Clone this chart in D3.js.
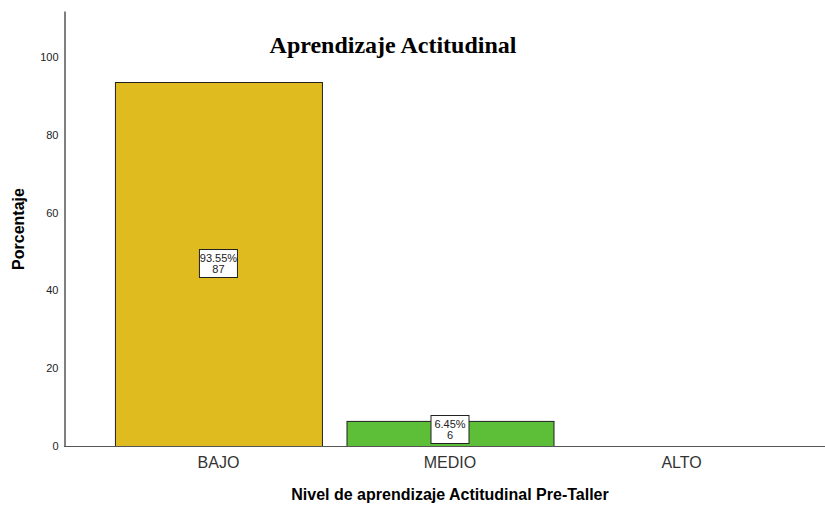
<!DOCTYPE html>
<html>
<head>
<meta charset="utf-8">
<script src="https://cdn.jsdelivr.net/npm/d3@7"></script>
<style>
    body { margin: 0; background: #fff; }
</style>
</head>
<body>
<script>
const categories = ['BAJO', 'MEDIO', 'ALTO'];
const percents = [93.55, 6.45, 0];
const counts = [87, 6, 0];
const barColors = ['#e0bb1f', '#5dbf37', '#3e58ac'];
const yTicks = [0, 20, 40, 60, 80, 100];

const chartConfig = {
    w: 825,
    h: 507
};

const data = categories.map(function(c, i) {
    return { cat: c, pct: percents[i], n: counts[i], color: barColors[i] };
});

const svg = d3.select('body')
    .append('svg')
    .attr('width', chartConfig.w)
    .attr('height', chartConfig.h);

// SCALES

const xScale = d3.scaleBand()
    .domain(categories)
    .range([64, 836])
    .paddingInner(0.106)
    .paddingOuter(0.22);

const yScale = d3.scaleLinear()
    .domain([0, 111.8])
    .range([446, 11]);

// TITLE

svg.append('text')
    .attr('x', 393)
    .attr('y', 53)
    .attr('text-anchor', 'middle')
    .attr('font-family', '"Liberation Serif", "Times New Roman", serif')
    .attr('font-weight', 'bold')
    .attr('font-size', '24px')
    .attr('fill', '#000')
    .text('Aprendizaje Actitudinal');

// BARS

const bars = data.filter(function(d) { return d.pct > 0; });

svg.selectAll('rect.bar')
    .data(bars)
    .enter()
    .append('rect')
    .attr('class', 'bar')
    .attr('x', function(d) { return xScale(d.cat) + 0.5; })
    .attr('y', function(d) { return yScale(d.pct) + 0.5; })
    .attr('width', xScale.bandwidth())
    .attr('height', function(d) { return yScale(0) - yScale(d.pct); })
    .attr('fill', function(d) { return d.color; })
    .attr('stroke', '#222')
    .attr('stroke-width', 1);

// AXES

const yAxis = d3.axisLeft(yScale)
    .tickValues(yTicks)
    .tickSize(0)
    .tickPadding(6);

const gy = svg.append('g')
    .attr('transform', 'translate(64.5,0)')
    .call(yAxis);
gy.select('.domain').attr('stroke', '#000');
gy.selectAll('text')
    .attr('font-family', 'Arial, "Liberation Sans", sans-serif')
    .attr('font-size', '11px')
    .attr('fill', '#222');

const xAxis = d3.axisBottom(xScale).tickSize(0).tickPadding(10);

const gx = svg.append('g')
    .attr('transform', 'translate(0,446.5)')
    .call(xAxis);
gx.select('.domain').attr('d', 'M64,0H825').attr('stroke', '#555');
gx.selectAll('text')
    .attr('font-family', 'Arial, "Liberation Sans", sans-serif')
    .attr('font-size', '16px')
    .attr('fill', '#333');

// AXIS TITLES

svg.append('text')
    .attr('x', 450)
    .attr('y', 500)
    .attr('text-anchor', 'middle')
    .attr('font-family', 'Arial, "Liberation Sans", sans-serif')
    .attr('font-weight', 'bold')
    .attr('font-size', '16px')
    .text('Nivel de aprendizaje Actitudinal Pre-Taller');

svg.append('text')
    .attr('transform', 'translate(24,229) rotate(-90)')
    .attr('text-anchor', 'middle')
    .attr('font-family', 'Arial, "Liberation Sans", sans-serif')
    .attr('font-weight', 'bold')
    .attr('font-size', '16px')
    .text('Porcentaje');

// DATA LABELS

const labels = svg.selectAll('g.lbl')
    .data(bars)
    .enter()
    .append('g')
    .attr('class', 'lbl')
    .attr('transform', function(d) {
        const cx = xScale(d.cat) + xScale.bandwidth() / 2;
        const cy = d.pct > 20 ? (yScale(d.pct) + yScale(0)) / 2 : yScale(0) - 16;
        return 'translate(' + cx + ',' + cy + ')';
    });

labels.append('rect')
    .attr('x', -19)
    .attr('y', -14.5)
    .attr('width', 38)
    .attr('height', 28)
    .attr('fill', '#fff')
    .attr('stroke', '#222');

labels.append('text')
    .attr('text-anchor', 'middle')
    .attr('y', -2)
    .attr('font-family', 'Arial, "Liberation Sans", sans-serif')
    .attr('font-size', '11px')
    .attr('fill', '#222')
    .text(function(d) { return d.pct.toFixed(2) + '%'; });

labels.append('text')
    .attr('text-anchor', 'middle')
    .attr('y', 9)
    .attr('font-family', 'Arial, "Liberation Sans", sans-serif')
    .attr('font-size', '11px')
    .attr('fill', '#222')
    .text(function(d) { return d.n; });
</script>
</body>
</html>
